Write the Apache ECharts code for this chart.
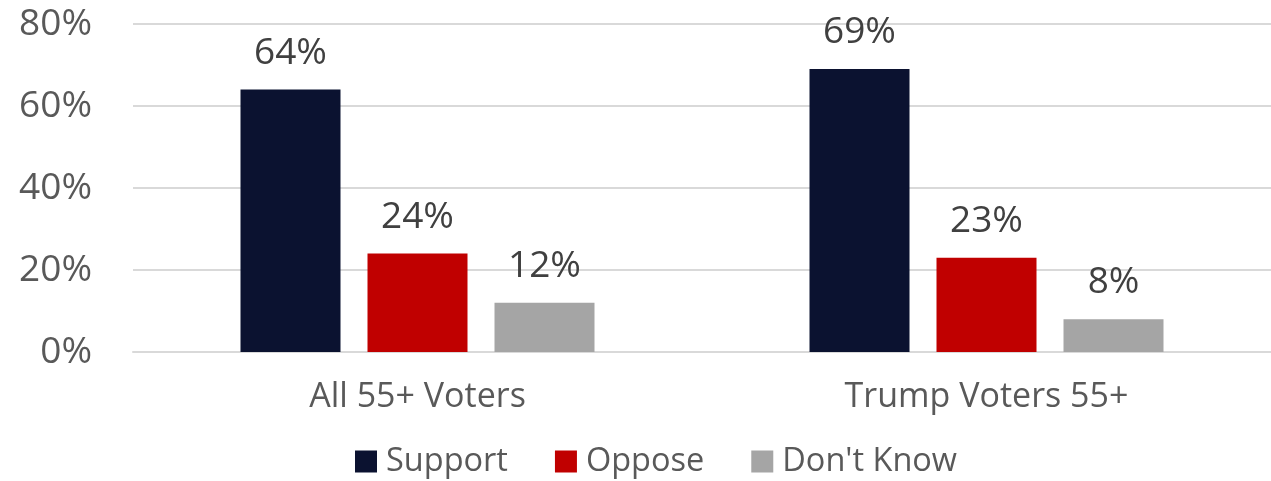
<!DOCTYPE html>
<html><head><meta charset="utf-8">
<script src="https://cdn.jsdelivr.net/npm/echarts@6/dist/echarts.min.js"></script>
<style>html,body{margin:0;padding:0;background:#fff}#c{width:1271px;height:481px}</style>
</head><body><div id="c"></div>
<script>
const categories = ['All 55+ Voters', 'Trump Voters 55+'];
const support = [64, 69];
const oppose = [24, 23];
const dontKnow = [12, 8];
const seriesNames = ['Support', 'Oppose', "Don't Know"];
const colors = ['#0b1230', '#c00000', '#a5a5a5'];
const FONT = 'Open Sans';

const chart = echarts.init(document.getElementById('c'), null, {renderer: 'canvas'});
const mk = (name, data, color) => ({
  name, type: 'bar', data, barWidth: 100, barGap: '27%',
  itemStyle: {color},
  label: {show: true, position: 'top', distance: 18, formatter: '{c}%',
    color: '#404040', fontFamily: FONT, fontSize: 37}
});
chart.setOption({
  animation: false,
  textStyle: {fontFamily: FONT},
  grid: {left: 133, width: 1146, top: 24, height: 328, containLabel: false},
  legend: {
    bottom: -2, left: 350, itemWidth: 22, itemHeight: 22, itemGap: 47,
    icon: 'rect',
    textStyle: {fontFamily: FONT, fontSize: 32.5, color: '#595959', padding: [0, 0, 0, 4]},
    data: seriesNames
  },
  xAxis: {
    type: 'category', data: categories,
    axisLine: {show: true, lineStyle: {color: '#d9d9d9', width: 2}},
    axisTick: {show: false},
    axisLabel: {fontFamily: FONT, fontSize: 34, color: '#595959', margin: 28}
  },
  yAxis: {
    type: 'value', min: 0, max: 80, interval: 20,
    axisLine: {show: false}, axisTick: {show: false},
    splitLine: {lineStyle: {color: '#d9d9d9', width: 2}},
    axisLabel: {formatter: '{value}%', fontFamily: FONT, fontSize: 37, color: '#595959', margin: 41}
  },
  series: [
    mk(seriesNames[0], support, colors[0]),
    mk(seriesNames[1], oppose, colors[1]),
    mk(seriesNames[2], dontKnow, colors[2])
  ]
});
</script></body></html>
